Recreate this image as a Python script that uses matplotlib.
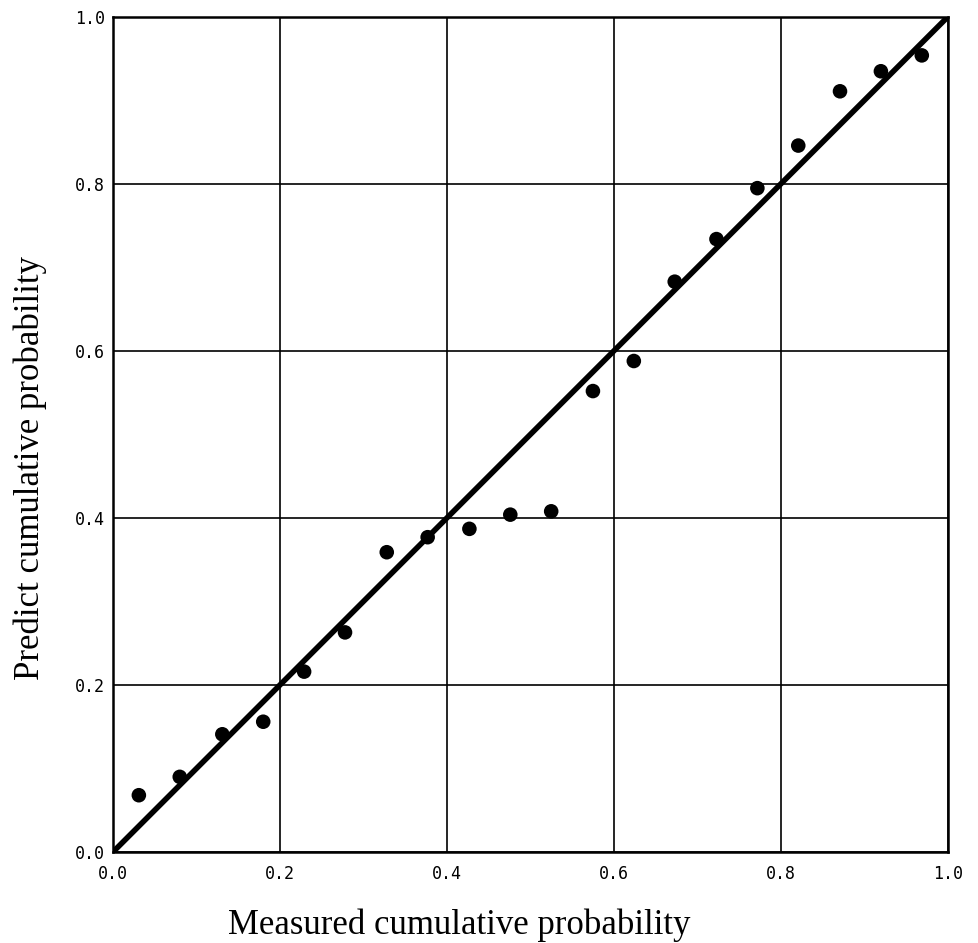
import matplotlib
matplotlib.use("Agg")
import matplotlib.pyplot as plt
import numpy as np

measured = [0.031, 0.080, 0.131, 0.180, 0.229, 0.278, 0.328, 0.377, 0.427, 0.476,
            0.525, 0.575, 0.624, 0.673, 0.723, 0.772, 0.821, 0.871, 0.920, 0.969]
predicted = [0.068, 0.090, 0.141, 0.156, 0.216, 0.263, 0.359, 0.377, 0.387, 0.404,
             0.408, 0.552, 0.588, 0.683, 0.734, 0.795, 0.846, 0.911, 0.935, 0.954]
ticks = [0.0, 0.2, 0.4, 0.6, 0.8, 1.0]
tick_labels = ["0.0", "0.2", "0.4", "0.6", "0.8", "1.0"]

fig = plt.figure(figsize=(9.79, 9.43), dpi=100)
ax = fig.add_axes([0.1154, 0.0965, 0.968 - 0.1154, 0.982 - 0.0965])
ax.set_xlim(0, 1)
ax.set_ylim(0, 1)
ax.grid(True, color="black", linewidth=1.2)
ax.set_axisbelow(True)
ax.plot([0, 1], [0, 1], color="black", linewidth=4, zorder=2, solid_capstyle="butt")
ax.scatter(measured, predicted, s=110, color="black", zorder=3, edgecolors="none")
for s in ax.spines.values():
    s.set_linewidth(1.8)
ax.set_xticks(ticks)
ax.set_yticks(ticks)
ax.set_xticklabels(tick_labels, family="DejaVu Sans Mono", fontsize=12)
ax.set_yticklabels(tick_labels, family="DejaVu Sans Mono", fontsize=12)
ax.tick_params(axis="x", length=0, pad=9)
ax.tick_params(axis="y", length=0, pad=6)
fig.text(0.469, 0.019, "Measured cumulative probability", family="Liberation Serif",
         fontsize=25, ha="center", va="center")
fig.text(0.031, 0.504, "Predict cumulative probability", family="Liberation Serif",
         fontsize=25, ha="center", va="center", rotation=90)
fig.savefig("out.png", dpi=100)
